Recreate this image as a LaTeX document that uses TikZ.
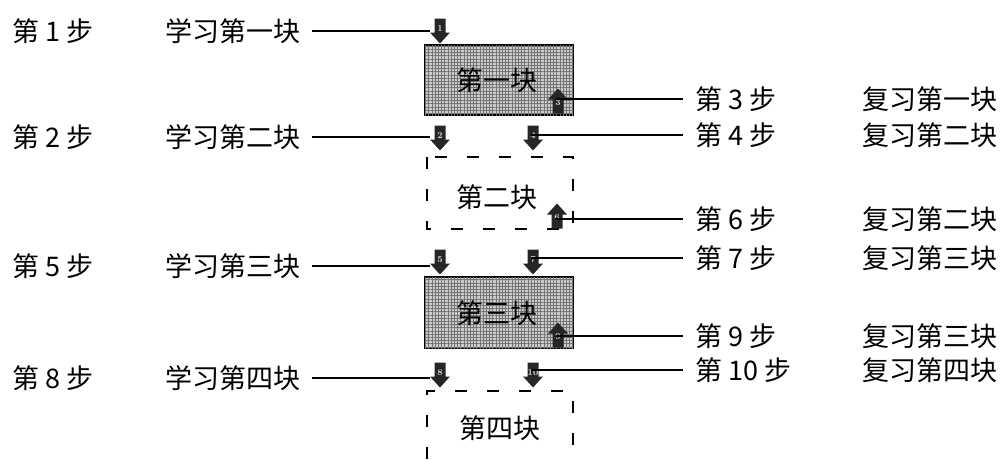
\documentclass[tikz,border=0pt]{standalone}
\usepackage{fontspec}
\newfontfamily\cjk{Noto Sans CJK SC}
\usetikzlibrary{patterns.meta}
\newcommand\blkarrow[5]{% name, x, y, direction (1 down, -1 up), label
  \begin{scope}[shift={(#2,#3)},yscale=#4]
    \fill[black!85] (-5.5,-12.5) -- (5.5,-12.5) -- (5.5,1.5) -- (10,1.5) -- (0,12.5)
      -- (-10,1.5) -- (-5.5,1.5) -- cycle;
  \end{scope}
  \node[arrtxt] (#1) at (#2,#3-#4*2) {#5};}
\begin{document}
\begin{tikzpicture}[x=1pt,y=-1pt,
  lbl/.style={anchor=west,inner sep=0pt,font=\cjk\fontsize{27}{30}\selectfont},
  boxtxt/.style={inner sep=0pt,font=\cjk\fontsize{27}{30}\selectfont},
  arrtxt/.style={inner sep=0pt,minimum width=20pt,minimum height=20pt,
    font=\fontsize{9}{9}\selectfont\bfseries\color{white!85!black}},
  conn/.style={line width=1.1pt},
  shaded/.style={draw=black,line width=1.6pt,fill=gray!40,
    postaction={pattern={Lines[angle=0,distance=3.2pt,line width=0.7pt]},pattern color=black!55},
    postaction={pattern={Lines[angle=90,distance=3.2pt,line width=0.7pt]},pattern color=black!55}},
  dsh/.style={draw=black,line width=1.8pt,dash pattern=on 12pt off 20pt}]
\useasboundingbox (0,0) rectangle (1007,459);

% boxes
\path[shaded] (425,45) rectangle (573,115);
\node[boxtxt] (b1) at (497,80) {第一块};
\draw[dsh] (427,157) rectangle (573,229);
\node[boxtxt] (b2) at (497,197) {第二块};
\path[shaded] (425,277) rectangle (573,348);
\node[boxtxt] (b3) at (497,313) {第三块};
\draw[dsh] (427,459) -- (427,391) -- (573,391) -- (573,459);
\node[boxtxt] (b4) at (500,428) {第四块};

% arrows
\blkarrow{a1}{440}{31}{1}{1}
\blkarrow{a3}{558}{101}{-1}{3}
\blkarrow{a2}{440}{138}{1}{2}
\blkarrow{a4}{533}{138}{1}{4}
\blkarrow{a6}{557}{216}{-1}{6}
\blkarrow{a5}{440}{262}{1}{5}
\blkarrow{a7}{533}{262}{1}{7}
\blkarrow{a9}{558}{335}{-1}{9}
\blkarrow{a8}{440}{375}{1}{8}
\blkarrow{a10}{533}{375}{1}{10}

% left labels
\node[lbl] (s1) at (12,31) {第 1 步};
\node[lbl] (l1) at (165,31) {学习第一块};
\node[lbl] (s2) at (12,137) {第 2 步};
\node[lbl] (l2) at (165,137) {学习第二块};
\node[lbl] (s5) at (12,266) {第 5 步};
\node[lbl] (l5) at (165,266) {学习第三块};
\node[lbl] (s8) at (12,378) {第 8 步};
\node[lbl] (l8) at (165,378) {学习第四块};

% right labels
\node[lbl] (s3) at (695,99) {第 3 步};
\node[lbl] (r3) at (862,99) {复习第一块};
\node[lbl] (s4) at (695,135) {第 4 步};
\node[lbl] (r4) at (862,135) {复习第二块};
\node[lbl] (s6) at (695,219) {第 6 步};
\node[lbl] (r6) at (862,219) {复习第二块};
\node[lbl] (s7) at (695,258) {第 7 步};
\node[lbl] (r7) at (862,258) {复习第三块};
\node[lbl] (s9) at (695,336) {第 9 步};
\node[lbl] (r9) at (862,336) {复习第三块};
\node[lbl] (s10) at (695,370) {第 10 步};
\node[lbl] (r10) at (862,370) {复习第四块};

% connectors left
\draw[conn] ([xshift=12pt]l1.east) -- (l1.east -| a1.west);
\draw[conn] ([xshift=12pt]l2.east) -- (l2.east -| a2.west);
\draw[conn] ([xshift=12pt]l5.east) -- (l5.east -| a5.west);
\draw[conn] ([xshift=12pt]l8.east) -- (l8.east -| a8.west);
% connectors right
\draw[conn] ([xshift=-12pt]s3.west) -- ([xshift=-12pt]s3.west -| a3.east);
\draw[conn] ([xshift=-12pt]s4.west) -- ([xshift=-12pt]s4.west -| a4.east);
\draw[conn] ([xshift=-12pt]s6.west) -- ([xshift=-12pt]s6.west -| a6.east);
\draw[conn] ([xshift=-12pt]s7.west) -- ([xshift=-12pt]s7.west -| a7.east);
\draw[conn] ([xshift=-12pt]s9.west) -- ([xshift=-12pt]s9.west -| a9.east);
\draw[conn] ([xshift=-12pt]s10.west) -- ([xshift=-12pt]s10.west -| a10.east);
\end{tikzpicture}
\end{document}
